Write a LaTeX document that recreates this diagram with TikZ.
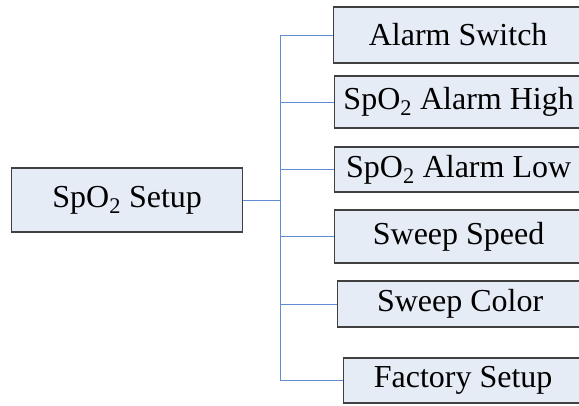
\documentclass[tikz,border=0pt]{standalone}
\usepackage{fontspec}
\setmainfont{Liberation Serif}
\definecolor{boxfill}{RGB}{230,236,246}
\definecolor{linkblue}{RGB}{95,140,210}
\tikzset{
  item/.style={draw=black!75, fill=boxfill, line width=1.3pt, anchor=west,
    inner sep=0pt, font=\fontsize{32}{36}\selectfont},
  link/.style={draw=linkblue, line width=0.9pt}
}
\begin{document}
\begin{tikzpicture}[x=1pt,y=-1pt]
\useasboundingbox (0,0) rectangle (579,405);
\clip (0,0) rectangle (579,405);
% root
\node[item, minimum width=231pt, minimum height=64pt] (setup) at (11,200) {SpO\textsubscript{2} Setup};
% menu entries
\node[item, minimum width=249pt, minimum height=56pt] (alarm) at (333,35) {Alarm Switch};
\node[item, minimum width=248pt, minimum height=52pt] (high) at (334,102) {SpO\textsubscript{2} Alarm High};
\node[item, minimum width=248pt, minimum height=45pt] (low) at (334,169.5) {SpO\textsubscript{2} Alarm Low};
\node[item, minimum width=248pt, minimum height=53pt] (speed) at (334,236.5) {Sweep Speed};
\node[item, minimum width=245pt, minimum height=46pt] (color) at (337,304) {Sweep Color};
\node[item, minimum width=239pt, minimum height=45pt] (factory) at (343,380.5) {Factory Setup};
% connectors
\coordinate (trunk) at (280,200);
\draw[link] (setup.east) -- (trunk);
\draw[link] (trunk |- alarm.west) -- (trunk |- factory.west);
\foreach \n in {alarm,high,low,speed,color,factory}
  \draw[link] (trunk |- \n.west) -- (\n.west);
\end{tikzpicture}
\end{document}
